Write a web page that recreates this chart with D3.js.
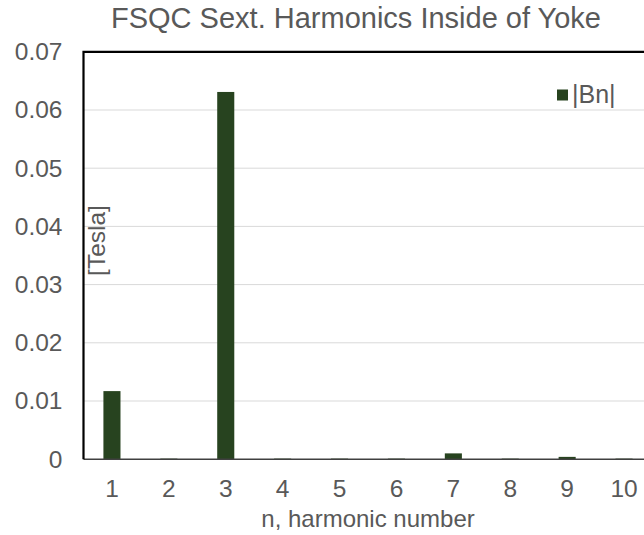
<!DOCTYPE html>
<html>
<head>
<meta charset="utf-8">
<script src="https://cdnjs.cloudflare.com/ajax/libs/d3/7.8.5/d3.min.js"></script>
<style>
  body { margin: 0; background: #fff; }
  svg { display: block; font-family: "Liberation Sans", Arial, sans-serif; }
</style>
</head>
<body>
<svg id="chart" width="644" height="535"></svg>
<script>
// harmonic numbers and |Bn| values (Tesla)
var harmonics = ['1', '2', '3', '4', '5', '6', '7', '8', '9', '10'];
var bnValues = [0.0117, 0.0001, 0.0631, 0.0001, 0.0001, 0.0001, 0.0010, 0.0001, 0.0004, 0.0001];
var yTicks = [0, 0.01, 0.02, 0.03, 0.04, 0.05, 0.06, 0.07];

var chartTitle = 'FSQC Sext. Harmonics Inside of Yoke';
var xTitle = 'n, harmonic number';
var yTitle = '[Tesla]';
var seriesName = '|Bn|';

var CONFIG = {
    left: 83.5,
    right: 652.5,
    top: 51.8,
    bottom: 459.2,
    barColor: '#27431f',
    textColor: '#595959',
    gridColor: '#d9d9d9',
    tickFont: '24.5px'
};

var svg = d3.select('#chart');

var x = d3.scaleBand()
    .domain(harmonics)
    .range([CONFIG.left, CONFIG.right])
    .paddingInner(0.7)
    .paddingOuter(0.35);

var y = d3.scaleLinear()
    .domain([0, 0.07])
    .range([CONFIG.bottom, CONFIG.top]);

// gridlines
svg.append('g')
    .selectAll('line')
    .data(yTicks.slice(1))
    .enter()
    .append('line')
    .attr('x1', CONFIG.left)
    .attr('x2', CONFIG.right)
    .attr('y1', function (d) { return y(d); })
    .attr('y2', function (d) { return y(d); })
    .style('stroke', CONFIG.gridColor)
    .style('stroke-width', 1);

// bars
svg.append('g')
    .selectAll('rect')
    .data(bnValues)
    .enter()
    .append('rect')
    .attr('x', function (d, i) { return x(harmonics[i]); })
    .attr('width', x.bandwidth())
    .attr('y', function (d) { return y(d); })
    .attr('height', function (d) { return y(0) - y(d); })
    .style('fill', CONFIG.barColor);

// baseline
svg.append('line')
    .attr('x1', CONFIG.left)
    .attr('x2', CONFIG.right)
    .attr('y1', y(0))
    .attr('y2', y(0))
    .style('stroke', '#404040')
    .style('stroke-width', 1.5);

// plot border (left + top)
svg.append('path')
    .attr('d', 'M' + CONFIG.left + ',' + CONFIG.bottom + 'V' + CONFIG.top + 'H' + CONFIG.right)
    .style('fill', 'none')
    .style('stroke', '#000')
    .style('stroke-width', 2.2);

// y tick labels
var yAxis = d3.axisLeft(y)
    .tickValues(yTicks)
    .tickSize(0)
    .tickPadding(21)
    .tickFormat(function (d) { return d === 0 ? '0' : d3.format('.2f')(d); });

var yg = svg.append('g')
    .attr('transform', 'translate(' + CONFIG.left + ',0)')
    .call(yAxis);
yg.select('.domain').remove();
yg.selectAll('text')
    .style('font-size', CONFIG.tickFont)
    .style('font-family', '"Liberation Sans", Arial, sans-serif')
    .style('fill', CONFIG.textColor);

// x tick labels
var xAxis = d3.axisBottom(x)
    .tickSize(0)
    .tickPadding(20);

var xg = svg.append('g')
    .attr('transform', 'translate(0,' + CONFIG.bottom + ')')
    .call(xAxis);
xg.select('.domain').remove();
xg.selectAll('text')
    .style('font-size', CONFIG.tickFont)
    .style('font-family', '"Liberation Sans", Arial, sans-serif')
    .style('fill', CONFIG.textColor);

// titles
svg.append('text')
    .attr('x', 356)
    .attr('y', 28)
    .style('text-anchor', 'middle')
    .style('font-size', '29px')
    .style('fill', CONFIG.textColor)
    .text(chartTitle);

svg.append('text')
    .attr('x', 368)
    .attr('y', 527)
    .style('text-anchor', 'middle')
    .style('font-size', '24px')
    .style('fill', CONFIG.textColor)
    .text(xTitle);

svg.append('text')
    .attr('transform', 'translate(105,240.5) rotate(-90)')
    .style('text-anchor', 'middle')
    .style('font-size', '24.5px')
    .style('fill', CONFIG.textColor)
    .text(yTitle);

// legend
var legend = svg.append('g').attr('transform', 'translate(557,89.5)');
legend.append('rect')
    .attr('width', 11)
    .attr('height', 11)
    .style('fill', CONFIG.barColor);
legend.append('text')
    .attr('x', 15)
    .attr('y', 13.5)
    .style('font-size', '25px')
    .style('fill', CONFIG.textColor)
    .text(seriesName);
</script>
</body>
</html>
